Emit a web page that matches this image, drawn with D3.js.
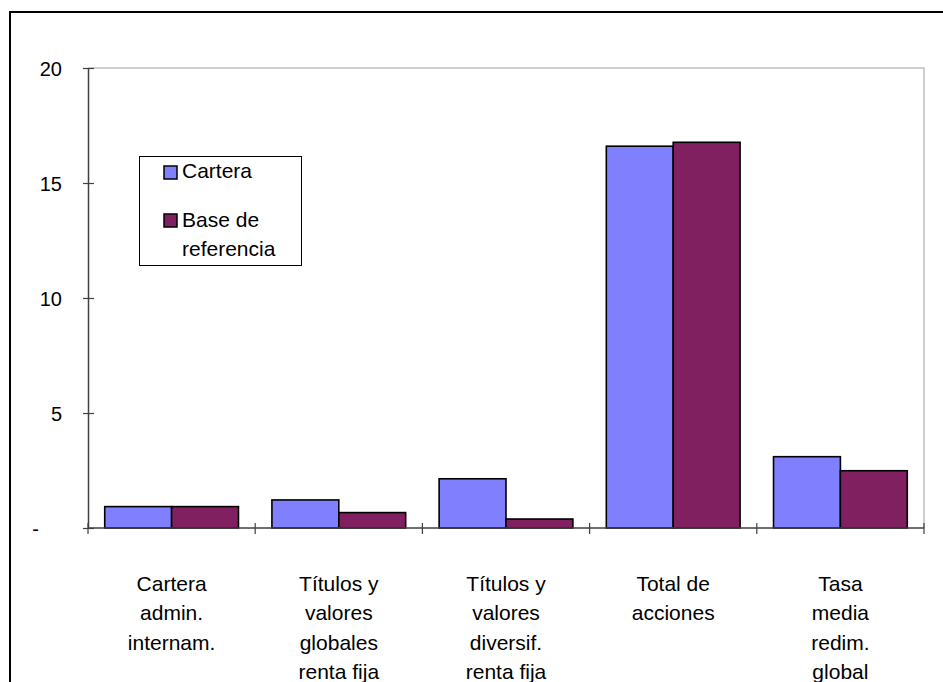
<!DOCTYPE html>
<html>
<head>
<meta charset="utf-8">
<script src="https://cdn.jsdelivr.net/npm/d3@7"></script>
<style>
  html, body { margin: 0; padding: 0; background: #fff; }
  svg { display: block; }
  text { font-family: Arial, "Liberation Sans", sans-serif; fill: #000; }
</style>
</head>
<body>
<svg id="chart" width="943" height="682"></svg>
<script>
// ---- data ----
const categories = [
  ["Cartera", "admin.", "internam."],
  ["Títulos y", "valores", "globales", "renta fija"],
  ["Títulos y", "valores", "diversif.", "renta fija"],
  ["Total de", "acciones"],
  ["Tasa", "media", "redim.", "global"]
];
const seriesNames = ["Cartera", "Base de referencia"];
const cartera = [0.93, 1.22, 2.14, 16.6, 3.1];
const baseRef = [0.93, 0.67, 0.39, 16.77, 2.49];
const yTicks = [0, 5, 10, 15, 20];
const yTickLabels = ["-", "5", "10", "15", "20"];
const colors = ["#8080FF", "#802060"];

// ---- layout ----
const svg = d3.select("#chart");
const plot = { left: 88, right: 924, top: 68, bottom: 528 };

// outer frame
svg.append("rect")
  .attr("x", 10).attr("y", 12)
  .attr("width", 1000).attr("height", 1000)
  .attr("fill", "none").attr("stroke", "#000").attr("stroke-width", 2);

const idx = d3.range(categories.length);
const x0 = d3.scaleBand().domain(idx).range([plot.left, plot.right]).paddingInner(0).paddingOuter(0);
const y = d3.scaleLinear().domain([0, 20]).range([plot.bottom, plot.top]);

// plot area border (light gray top + right)
svg.append("path")
  .attr("d", `M${plot.left},${plot.top}H${plot.right}V${plot.bottom}`)
  .attr("fill", "none").attr("stroke", "#c0c0c0").attr("stroke-width", 1.5);

// bars
const groupW = x0.bandwidth() / 2.5; // gap width 150%
const data = [cartera, baseRef];
const x1 = d3.scaleBand().domain([0, 1]).range([0, groupW * 2]);
data.forEach((vals, s) => {
  svg.append("g").selectAll("rect").data(vals).join("rect")
    .attr("x", (d, i) => x0(i) + (x0.bandwidth() - groupW * 2) / 2 + x1(s))
    .attr("y", d => y(d))
    .attr("width", x1.bandwidth())
    .attr("height", d => y(0) - y(d))
    .attr("fill", colors[s])
    .attr("stroke", "#000").attr("stroke-width", 1.6);
});

// y axis
const yAxis = d3.axisLeft(y).tickValues(yTicks).tickSize(0).tickFormat((d, i) => yTickLabels[i]);
const gy = svg.append("g").attr("transform", `translate(${plot.left},0)`).call(yAxis);
gy.select(".domain").attr("stroke", "#404040").attr("stroke-width", 1.5);
gy.selectAll(".tick line").remove();
gy.selectAll(".tick").append("line")
  .attr("x1", -5).attr("x2", 6).attr("stroke", "#404040").attr("stroke-width", 1.2);
gy.selectAll(".tick text")
  .attr("x", -26).attr("dy", "0.35em")
  .style("font-size", "20px").style("font-family", "Arial, 'Liberation Sans', sans-serif");
gy.selectAll(".tick text").filter(d => d === 0).attr("x", -49);

// x axis
const xTickScale = d3.scaleLinear().domain([0, categories.length]).range([plot.left, plot.right]);
const gx = svg.append("g").attr("transform", `translate(0,${plot.bottom})`);
gx.append("line").attr("x1", plot.left).attr("x2", plot.right)
  .attr("stroke", "#404040").attr("stroke-width", 1.5);
gx.selectAll("line.tk").data(d3.range(categories.length + 1)).join("line")
  .attr("class", "tk")
  .attr("x1", d => xTickScale(d)).attr("x2", d => xTickScale(d))
  .attr("y1", -5).attr("y2", 6)
  .attr("stroke", "#404040").attr("stroke-width", 1.2);

// category labels
const lab = svg.append("g");
categories.forEach((lines, i) => {
  const t = lab.append("text")
    .attr("x", x0(i) + x0.bandwidth() / 2)
    .attr("y", 591)
    .attr("text-anchor", "middle")
    .style("font-size", "21px");
  lines.forEach((ln, j) => {
    t.append("tspan").attr("x", x0(i) + x0.bandwidth() / 2).attr("dy", j === 0 ? 0 : 29.3).text(ln);
  });
});

// legend
const lg = svg.append("g");
lg.append("rect").attr("x", 139.5).attr("y", 156.5).attr("width", 162).attr("height", 109)
  .attr("fill", "#fff").attr("stroke", "#000").attr("stroke-width", 1);
const legendItems = [
  { name: ["Cartera"], sy: 166, ty: 178 },
  { name: ["Base de", "referencia"], sy: 214, ty: 227 }
];
legendItems.forEach((it, s) => {
  lg.append("rect").attr("x", 164).attr("y", it.sy).attr("width", 13).attr("height", 13)
    .attr("fill", colors[s]).attr("stroke", "#000").attr("stroke-width", 1.5);
  const t = lg.append("text").attr("x", 182).attr("y", it.ty).style("font-size", "21px");
  it.name.forEach((ln, j) => t.append("tspan").attr("x", 182).attr("dy", j === 0 ? 0 : 29).text(ln));
});
</script>
</body>
</html>
